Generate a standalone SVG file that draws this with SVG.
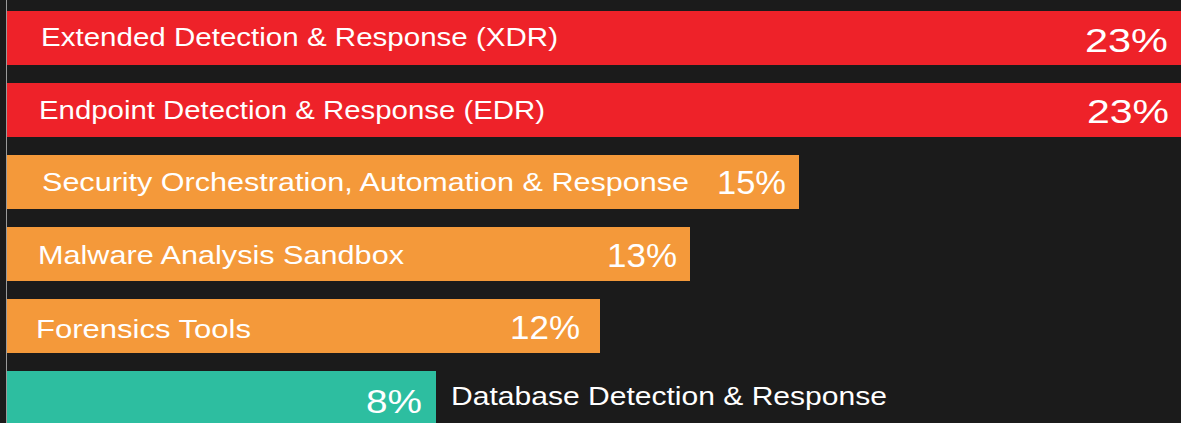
<svg xmlns="http://www.w3.org/2000/svg" width="1181" height="423" viewBox="0 0 1181 423">
<style>
.lbl{font-family:"Liberation Sans",Arial,sans-serif;font-size:25px;fill:#ffffff}
.num{font-family:"Liberation Sans",Arial,sans-serif;font-size:34px;fill:#ffffff}
.red{fill:#ee2229}
.org{fill:#f4993a}
.teal{fill:#2dbea0}
</style>
<rect x="0" y="0" width="1181" height="423" fill="#1b1b1b"/>
<line x1="6.5" y1="0" x2="6.5" y2="423" stroke="#9a9a9a" stroke-width="1"/>
<g id="bar-xdr">
<rect class="red" x="7" y="11" width="1174" height="54"/>
<text class="lbl" x="41" y="46" textLength="517" lengthAdjust="spacingAndGlyphs">Extended Detection &amp; Response (XDR)</text>
<text class="num" x="1085" y="52" textLength="83" lengthAdjust="spacingAndGlyphs">23%</text>
</g>
<g id="bar-edr">
<rect class="red" x="7" y="83" width="1174" height="54"/>
<text class="lbl" x="39" y="119" textLength="506" lengthAdjust="spacingAndGlyphs">Endpoint Detection &amp; Response (EDR)</text>
<text class="num" x="1087" y="123" textLength="82" lengthAdjust="spacingAndGlyphs">23%</text>
</g>
<g id="bar-soar">
<rect class="org" x="7" y="155" width="792" height="54"/>
<text class="lbl" x="42" y="191" textLength="647" lengthAdjust="spacingAndGlyphs">Security Orchestration, Automation &amp; Response</text>
<text class="num" x="717" y="194" textLength="69" lengthAdjust="spacingAndGlyphs">15%</text>
</g>
<g id="bar-sandbox">
<rect class="org" x="7" y="227" width="683" height="54"/>
<text class="lbl" x="38" y="264" textLength="366" lengthAdjust="spacingAndGlyphs">Malware Analysis Sandbox</text>
<text class="num" x="607" y="267" textLength="70" lengthAdjust="spacingAndGlyphs">13%</text>
</g>
<g id="bar-forensics">
<rect class="org" x="7" y="299" width="593" height="54"/>
<text class="lbl" x="36" y="338" textLength="215" lengthAdjust="spacingAndGlyphs">Forensics Tools</text>
<text class="num" x="510" y="339" textLength="70" lengthAdjust="spacingAndGlyphs">12%</text>
</g>
<g id="bar-ddr">
<rect class="teal" x="7" y="371" width="429" height="52"/>
<text class="num" x="366" y="413" textLength="56" lengthAdjust="spacingAndGlyphs">8%</text>
<text class="lbl" x="451" y="405" textLength="436" lengthAdjust="spacingAndGlyphs">Database Detection &amp; Response</text>
</g>
<g id="connectors"></g>
</svg>
